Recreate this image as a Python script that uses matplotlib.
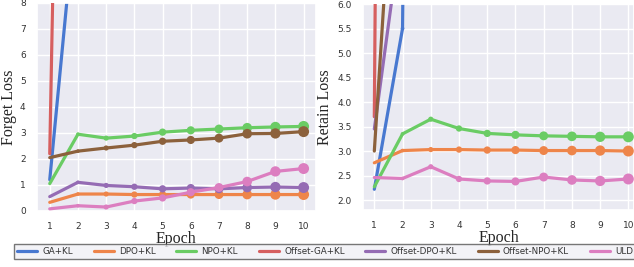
import numpy as np
import matplotlib.pyplot as plt
import seaborn as sns

sns.set_theme(style='darkgrid')

epochs = [1, 2, 3, 4, 5, 6, 7, 8, 9, 10]
methods = ['GA+KL', 'DPO+KL', 'NPO+KL', 'Offset-GA+KL', 'Offset-DPO+KL', 'Offset-NPO+KL', 'ULD']

# forget loss (values off the top of the plot are rough guesses)
forget_ga = [1.2, 12.5, 25.0, 40.0, 55.0, 65.0, 70.0, 75.0, 78.0, 80.0]
forget_dpo = [0.33, 0.65, 0.65, 0.63, 0.63, 0.63, 0.63, 0.63, 0.63, 0.63]
forget_npo = [1.05, 2.95, 2.8, 2.88, 3.03, 3.1, 3.15, 3.2, 3.23, 3.25]
forget_off_ga = [2.2, 60.0, 80.0, 90.0, 95.0, 98.0, 100.0, 100.0, 100.0, 100.0]
forget_off_dpo = [0.55, 1.1, 0.98, 0.93, 0.85, 0.88, 0.85, 0.9, 0.92, 0.9]
forget_off_npo = [2.05, 2.3, 2.42, 2.53, 2.68, 2.73, 2.8, 2.97, 2.98, 3.05]
forget_uld = [0.08, 0.2, 0.15, 0.38, 0.5, 0.72, 0.9, 1.13, 1.52, 1.63]

# retain loss
retain_ga = [2.22, 5.5, 60.0, 70.0, 80.0, 85.0, 90.0, 92.0, 94.0, 95.0]
retain_dpo = [2.76, 3.01, 3.03, 3.03, 3.02, 3.02, 3.01, 3.01, 3.01, 3.0]
retain_npo = [2.27, 3.35, 3.65, 3.46, 3.36, 3.33, 3.31, 3.3, 3.29, 3.29]
retain_off_ga = [3.7, 80.0, 90.0, 95.0, 98.0, 99.0, 100.0, 100.0, 100.0, 100.0]
retain_off_dpo = [3.45, 7.7, 9.0, 8.0, 7.0, 6.1, 7.0, 8.0, 8.5, 9.0]
retain_off_npo = [3.0, 12.0, 14.0, 15.0, 16.0, 16.5, 17.0, 17.0, 17.5, 18.0]
retain_uld = [2.46, 2.44, 2.68, 2.43, 2.39, 2.38, 2.47, 2.41, 2.39, 2.43]

forget = [forget_ga, forget_dpo, forget_npo, forget_off_ga, forget_off_dpo, forget_off_npo, forget_uld]
retain = [retain_ga, retain_dpo, retain_npo, retain_off_ga, retain_off_dpo, retain_off_npo, retain_uld]

colors = sns.color_palette('muted')

fig = plt.figure(figsize=(6.34, 2.67), dpi=100)
ax1 = fig.add_axes([0.058, 0.21, 0.44, 0.779])
ax2 = fig.add_axes([0.5726, 0.214, 0.4274, 0.771])

# marker area grows with epoch (like a seaborn size mapping)
sizes = [62 * (e - 1) / 9 for e in epochs]

for ax, data in [(ax1, forget), (ax2, retain)]:
    for i, name in enumerate(methods):
        ax.plot(epochs, data[i], color=colors[i], lw=2.3, label=name, zorder=2 + i)
        ax.scatter(epochs, data[i], s=sizes, color=colors[i], zorder=2 + i, linewidths=0)
    ax.set_xticks(epochs)
    ax.tick_params(labelsize=6.5, pad=2, colors='#333333')
    ax.set_xlabel('Epoch', family='Liberation Serif', fontsize=11.5, labelpad=0)

ax1.set_xlim(0.54, 10.43)
ax1.set_ylim(0, 8)
ax1.set_ylabel('Forget Loss', family='Liberation Serif', fontsize=11.5, labelpad=2)

ax2.set_xlim(0.6, 10.2)
ax2.set_ylim(1.8, 6.0)
ax2.set_yticks(np.arange(2.0, 6.01, 0.5))
ax2.set_ylabel('Retain Loss', family='Liberation Serif', fontsize=11.5, labelpad=3)

handles, labels = ax1.get_legend_handles_labels()
leg = fig.legend(handles, labels, loc='center', bbox_to_anchor=(0.5126, 0.058), ncol=7,
                 fontsize=6.3, frameon=True, fancybox=False, edgecolor='#555555',
                 handlelength=2.3, handletextpad=0.6, columnspacing=2.35,
                 borderpad=0.35, borderaxespad=0)
leg.get_frame().set_facecolor('#f0f0f5')
for t in leg.get_texts():
    t.set_color('#333333')

plt.savefig('out.png', dpi=100)
